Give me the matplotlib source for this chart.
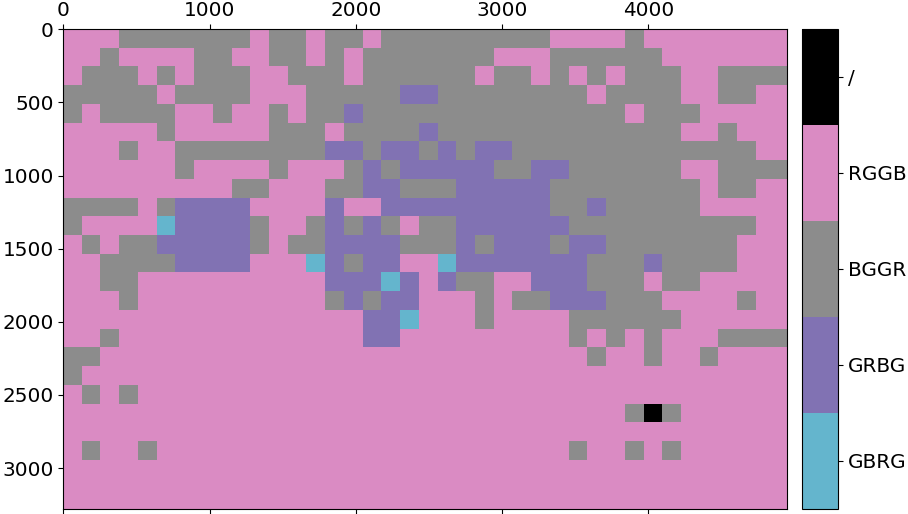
import numpy as np
import matplotlib
matplotlib.use("Agg")
import matplotlib.pyplot as plt
from matplotlib.colors import ListedColormap, BoundaryNorm

# bayer pattern detected per 128px block of a 4948x3280 frame
patterns = ["GBRG", "GRBG", "BGGR", "RGGB", "/"]
codes = {"C": 0, "U": 1, "G": 2, "P": 3, "K": 4}
colors = ["#64b5cd", "#8172b3", "#8c8c8c", "#da8bc3", "#000000"]

img_w = 4948
img_h = 3280
block = 128

rows = [
    "PPPGGGGGGGPGG" + "PGGPGGGGGGGGG" + "PPPPGPPPPPPPP",
    "PPGPPPPGGPPGG" + "PGPGGGGGGGPPP" + "GGGGGGPPPPPPP",
    "PGGGPGPGGGPPG" + "GGPGGGGGGPGGP" + "GPGPGGGPPGGGG",
    "GGGGGPGGGGPPP" + "GGGGGUUGGGGGG" + "GGPGGGGPPGGPP",
    "GPGGGGPPGPPGP" + "GGUGGGGGGGGGG" + "GGGGPGGGPPPPP",
    "PPPPPGPPPPPGG" + "GPGGGGUGGGGGG" + "GGGGGGGPPGPPP",
    "PPPGPPGGGGGGG" + "GUUGUUGUGUUGG" + "GGGGGGGGGGGPP",
    "PPPPPPGPPPPGP" + "PPGUGUUUUUGGU" + "UGGGGGGPPGGGG",
    "PPPPPPPPPGGPP" + "PGGUUGGGUUUUU" + "GGGGGGGGPGGPP",
    "GGGGPGUUUUPPP" + "PUPPUUUUUUUUU" + "GGUGGGGGPPPPP",
    "GPPPPCUUUUGPP" + "GUGUGPGGUUUUU" + "UGGGGGGGGGGPP",
    "PGPGGUUUUUGPG" + "GUUUUGGGUGUUU" + "GUUGGGGGGGPPP",
    "PPGGGGUUUUPPP" + "CUGUUPPCUUUUU" + "UUGGGUGGGGPPP",
    "PPGGPPPPPPPPP" + "PUUUCUPUGGPPU" + "UUGGGPGGPPPPP",
    "PPPGPPPPPPPPP" + "PGUGUUPPPGPGG" + "UUUGGGPPPPGPP",
    "PPPPPPPPPPPPP" + "PPPUUCPPPGPPP" + "PGGGGGGPPPPPP",
    "PPGPPPPPPPPPP" + "PPPUUPPPPPPPP" + "PGPGPGPPPGGGG",
    "GGPPPPPPPPPPP" + "PPPPPPPPPPPPP" + "PPGPPGPPGPPPP",
    "GPPPPPPPPPPPP" + "PPPPPPPPPPPPP" + "PPPPPPPPPPPPP",
    "PGPGPPPPPPPPP" + "PPPPPPPPPPPPP" + "PPPPPPPPPPPPP",
    "PPPPPPPPPPPPP" + "PPPPPPPPPPPPP" + "PPPPGKGPPPPPP",
    "PPPPPPPPPPPPP" + "PPPPPPPPPPPPP" + "PPPPPPPPPPPPP",
    "PGPPGPPPPPPPP" + "PPPPPPPPPPPPP" + "PGPPGPGPPPPPP",
    "PPPPPPPPPPPPP" + "PPPPPPPPPPPPP" + "PPPPPPPPPPPPP",
    "PPPPPPPPPPPPP" + "PPPPPPPPPPPPP" + "PPPPPPPPPPPPP",
    "PPPPPPPPPPPPP" + "PPPPPPPPPPPPP" + "PPPPPPPPPPPPP",
]

grid = np.array([[codes[c] for c in r] for r in rows])
nrow, ncol = grid.shape

plt.rcParams['font.size'] = 14.4

fig = plt.figure(figsize=(9.08, 5.14), dpi=100)
ax = fig.add_axes([63.3 / 908, 5 / 514, 724 / 908, 479.7 / 514])
cax = fig.add_axes([802.3 / 908, 5 / 514, 36 / 908, 480 / 514])

cmap = ListedColormap(colors)
norm = BoundaryNorm(np.arange(-0.5, len(patterns) + 0.5), cmap.N)
im = ax.imshow(grid, cmap=cmap, norm=norm, interpolation='nearest',
               extent=[0, ncol * block, nrow * block, 0])
ax.set_xlim(0, img_w)
ax.set_ylim(img_h, 0)
ax.set_xticks([0, 1000, 2000, 3000, 4000])
ax.set_yticks([0, 500, 1000, 1500, 2000, 2500, 3000])
ax.tick_params(top=True, labeltop=True, bottom=True, labelbottom=False)

cb = fig.colorbar(im, cax=cax, ticks=range(len(patterns)))
cb.set_ticklabels(patterns)
cb.minorticks_off()

fig.savefig("out.png", dpi=100)
